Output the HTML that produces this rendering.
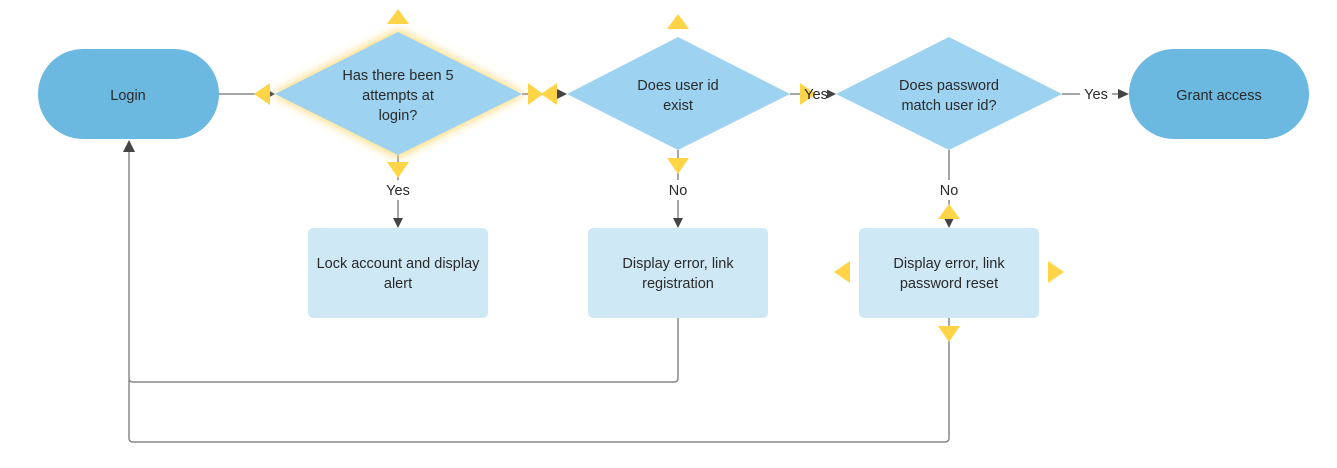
<!DOCTYPE html>
<html><head><style>body{margin:0;background:#fff}svg{display:block}text{font-family:"Liberation Sans",sans-serif;font-size:14.5px;fill:#2a2a2a;text-anchor:middle}</style></head>
<body>
<svg width="1337" height="468" viewBox="0 0 1337 468" xmlns="http://www.w3.org/2000/svg">
<defs>
<filter id="g" x="-20%" y="-20%" width="140%" height="140%"><feGaussianBlur stdDeviation="5"/></filter>
</defs>
<g stroke="#888" stroke-width="1.5" fill="none">
<line x1="219" y1="94" x2="265" y2="94"/>
<line x1="522" y1="94" x2="560" y2="94"/>
<line x1="790" y1="94" x2="828" y2="94"/>
<line x1="1062" y1="94" x2="1120" y2="94"/>
<line x1="398" y1="155" x2="398" y2="180"/>
<line x1="398" y1="200" x2="398" y2="220"/>
<line x1="678" y1="150" x2="678" y2="180"/>
<line x1="678" y1="200" x2="678" y2="220"/>
<line x1="949" y1="150" x2="949" y2="180"/>
<line x1="949" y1="200" x2="949" y2="220"/>
<path d="M678 318 V378 Q678 382 674 382 H133 Q129 382 129 378 V150"/>
<path d="M949 318 V438 Q949 442 945 442 H133 Q129 442 129 438 V380"/>
</g>
<g fill="#444">
<polygon points="123,152 135,152 129,140"/>
<polygon points="266,89 266,99 275,94"/>
<polygon points="557,89 557,99 567,94"/>
<polygon points="826,89 826,99 836,94"/>
<polygon points="1118,89 1118,99 1129,94"/>
<polygon points="393,218 403,218 398,228"/>
<polygon points="673,218 683,218 678,228"/>
<polygon points="944,218 954,218 949,228"/>
</g>
<rect x="38" y="49" width="181" height="90" rx="45" fill="#6bb8e0"/>
<rect x="1129" y="49" width="180" height="90" rx="45" fill="#6bb8e0"/>
<polygon points="398,30 524,94 398,157 273,94" fill="#fcd66a" filter="url(#g)"/>
<polygon points="398,32 522,94 398,155 275,94" fill="#9dd3f0"/>
<polygon points="678,37 790,94 678,150 567,94" fill="#9dd3f0"/>
<polygon points="949,37 1062,94 949,150 836,94" fill="#9dd3f0"/>
<rect x="308" y="228" width="180" height="90" rx="5" fill="#cfe8f6"/>
<rect x="588" y="228" width="180" height="90" rx="5" fill="#cfe8f6"/>
<rect x="859" y="228" width="180" height="90" rx="5" fill="#cfe8f6"/>
<rect x="1080" y="86" width="32" height="18" fill="#fff"/>
<rect x="803" y="86" width="24" height="18" fill="#fff"/>
<g fill="#ffd447">
<polygon points="387,24 409,24 398,9"/>
<polygon points="387,162 409,162 398,178"/>
<polygon points="270,83 270,105 254,94"/>
<polygon points="528,83 528,105 543,94"/>
<polygon points="557,83 557,105 541,94"/>
<polygon points="667,29 689,29 678,14"/>
<polygon points="667,158 689,158 678,174"/>
<polygon points="800,83 800,105 816,94"/>
<polygon points="938,219 960,219 949,204"/>
<polygon points="850,261 850,283 834,272"/>
<polygon points="1048,261 1048,283 1064,272"/>
<polygon points="938,326 960,326 949,342"/>
</g>
<text x="128" y="100">Login</text>
<text x="1219" y="100">Grant access</text>
<text x="398" y="80">Has there been 5</text>
<text x="398" y="100">attempts at</text>
<text x="398" y="120">login?</text>
<text x="678" y="90">Does user id</text>
<text x="678" y="110">exist</text>
<text x="949" y="90">Does password</text>
<text x="949" y="110">match user id?</text>
<text x="398" y="268">Lock account and display</text>
<text x="398" y="288">alert</text>
<text x="678" y="268">Display error, link</text>
<text x="678" y="288">registration</text>
<text x="949" y="268">Display error, link</text>
<text x="949" y="288">password reset</text>
<text x="398" y="195">Yes</text>
<text x="678" y="195">No</text>
<text x="949" y="195">No</text>
<text x="1096" y="99">Yes</text>
<text x="816" y="99">Yes</text>
</svg>
</body></html>
